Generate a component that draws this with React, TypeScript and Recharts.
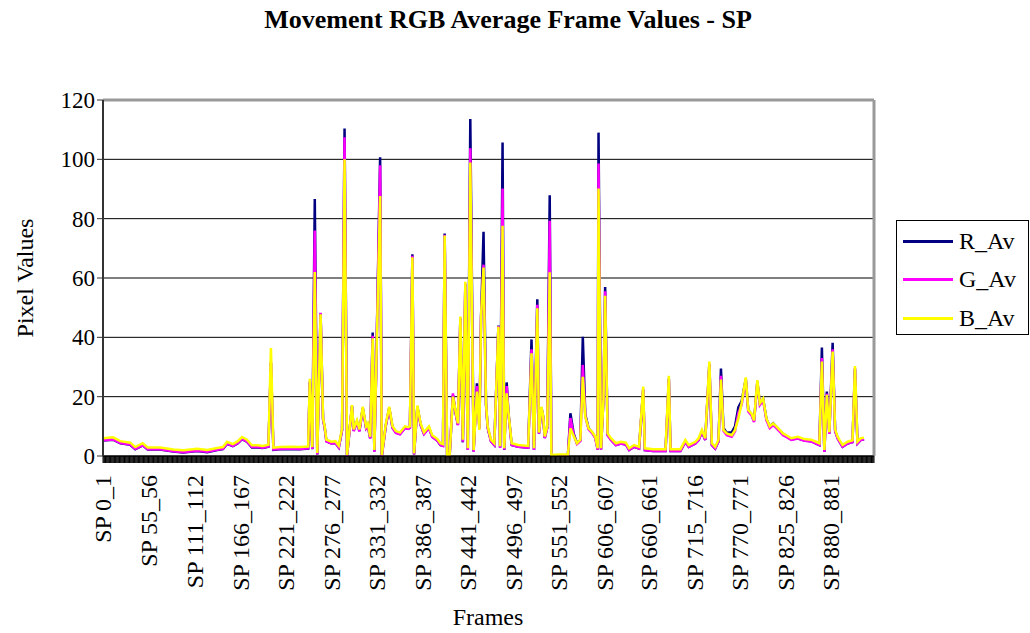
import { LineChart, Line, XAxis, YAxis, CartesianGrid, ReferenceLine } from "recharts";

// frame index (category position) of each sampled point
const frames = [
  0, 12, 21, 33, 39, 48, 54, 69, 85, 97, 114, 126, 138, 145, 150, 157, 163, 168, 174, 180,
  187, 193, 200, 203, 206, 214, 226, 238, 248, 250, 253, 256, 259, 263, 266, 268, 270, 276, 281, 285,
  289, 292, 295, 301, 303, 307, 310, 314, 318, 320, 323, 326, 328, 330, 335, 337, 342, 346, 350, 354,
  359, 365, 369, 371, 374, 376, 380, 384, 388, 394, 398, 404, 408, 411, 413, 416, 419, 423, 426, 429,
  432, 435, 438, 441, 444, 448, 452, 455, 457, 460, 463, 465, 469, 473, 478, 480, 483, 485, 488, 490,
  494, 502, 514, 518, 521, 525, 527, 530, 532, 534, 537, 540, 542, 552, 562, 565, 569, 573, 577, 580,
  583, 587, 591, 595, 598, 599, 602, 605, 607, 610, 614, 620, 626, 632, 636, 642, 648, 653, 655, 665,
  680, 684, 686, 698, 704, 708, 716, 720, 724, 728, 733, 736, 740, 744, 747, 750, 754, 760, 764, 768,
  772, 777, 780, 784, 787, 791, 794, 798, 802, 806, 810, 814, 818, 822, 826, 832, 840, 848, 856, 862,
  866, 869, 872, 875, 878, 882, 885, 888, 890, 894, 900, 906, 909, 912, 916, 920,
];

const rAv = [
  5.2, 5.5, 4.3, 3.8, 2.3, 3.6, 2.2, 2.2, 1.5, 1.2, 1.7, 1.3, 2.0, 2.3, 4.1, 3.3, 4.3, 5.7, 4.8, 2.9,
  2.9, 2.7, 3.1, 31.5, 2.1, 2.3, 2.4, 2.3, 2.5, 25, 2.3, 86.6, 0.5, 48, 12.4, 9.6, 5, 4.2, 4.4, 2.9,
  8.8, 110.4, 0, 16.8, 8.5, 11.5, 8.4, 16.2, 9.5, 10.5, 6, 41.6, 1.5, 26, 100.7, 0, 10.5, 16.2, 9.5, 7.9,
  7.4, 9.5, 9.2, 9.6, 68, 0.5, 16.6, 10.5, 7.5, 9.5, 6.5, 5.2, 3.7, 3.5, 75, 0, 0, 20.5, 15, 10.5,
  46.5, 4.6, 58, 2.1, 113.6, 1.5, 24.5, 9.5, 46.8, 75.6, 17.5, 9.6, 5, 3.7, 44, 2.8, 105.7, 2, 24.8, 15,
  3.7, 3.1, 2.8, 39.3, 2, 52.8, 7.5, 16.3, 13.4, 6.1, 9.6, 87.9, 0, 0.2, 0.2, 14.4, 7.5, 4.3, 5.3, 40.2,
  14, 9.3, 8, 6.3, 2.2, 109, 2.2, 19.5, 57, 7.1, 5.5, 3.7, 4.2, 3.9, 2, 3.1, 2.5, 22.5, 2, 1.7,
  1.7, 26, 1.7, 1.7, 4.8, 3.1, 4.2, 5.4, 8.2, 5.4, 31, 3.7, 2.5, 4.9, 29.5, 9.5, 7.8, 8, 10, 16.4,
  18.5, 26, 15.5, 14, 11.8, 25, 17.8, 19.2, 12.4, 10, 11, 9.8, 8.6, 7.4, 6.6, 5.6, 6, 5.2, 5, 4.2,
  3.7, 36.6, 1.4, 21.7, 7.6, 38.2, 8.5, 6, 5, 3.1, 4.2, 4.7, 29.5, 4.2, 5.4, 5.6,
];

const gAv = [
  5.3, 5.6, 4.4, 3.9, 2.4, 3.7, 2.3, 2.3, 1.6, 1.3, 1.8, 1.4, 2.1, 2.4, 4.2, 3.4, 4.4, 5.8, 4.9, 3.0,
  3.0, 2.8, 3.2, 31.5, 2.2, 2.4, 2.5, 2.4, 2.6, 25, 2.4, 76, 0.5, 48.3, 12.3, 9.5, 4.9, 4.2, 4.4, 2.9,
  8.8, 107.4, 0, 16.7, 8.4, 11.4, 8.3, 16.1, 9.4, 10.4, 5.9, 40.5, 1.4, 25.8, 98, 0, 10.4, 16.1, 9.4, 7.8,
  7.3, 9.4, 9.1, 9.5, 67.5, 0.5, 16.5, 10.4, 7.4, 9.4, 6.4, 5.2, 3.7, 3.4, 74.6, 0, 0, 21.1, 14.9, 10.4,
  46.5, 4.8, 58.2, 2, 103.7, 1.4, 23.6, 9, 46.8, 64.5, 17.3, 9.5, 4.9, 3.7, 43.8, 2.7, 90.2, 2.1, 23.6, 14.6,
  3.7, 3.1, 2.8, 36, 2, 51, 7.5, 16.2, 13.3, 6, 9.5, 79.3, 0, 0.2, 0.2, 12.8, 7, 4, 5, 30.7,
  13.5, 9, 7.8, 6.1, 2.1, 98.6, 2.1, 20, 55.5, 7, 5.4, 3.7, 4.2, 3.9, 2, 3.1, 2.5, 22.5, 2, 1.7,
  1.7, 26, 1.7, 1.7, 4.8, 3.1, 4.2, 5.4, 8.2, 5.4, 31, 3.7, 2.5, 4.9, 27, 8.5, 7, 6.5, 8.3, 14.5,
  17.2, 25.8, 15, 13.7, 11.4, 25, 17.2, 18.8, 12, 9.4, 10.4, 9.4, 8.2, 7, 6.4, 5.4, 5.9, 5.1, 4.9, 4.2,
  3.7, 33, 1.4, 21, 7.4, 36, 8.4, 5.9, 4.9, 3.1, 4.2, 4.7, 29.5, 4.2, 5.4, 5.6,
];

const bAv = [
  6, 6.3, 5, 4.5, 3, 4.3, 2.9, 2.9, 2.2, 1.9, 2.4, 2, 2.7, 3, 4.8, 4, 5, 6.4, 5.5, 3.6,
  3.6, 3.4, 3.8, 36.4, 2.8, 3, 3.1, 3, 3.2, 26, 3, 62, 1, 47.8, 12.8, 10, 5.5, 4.8, 5, 3.5,
  9.4, 100, 0.3, 17.2, 9, 12, 9, 16.6, 10, 11, 6.5, 39.7, 2, 26.7, 87.6, 0.3, 11, 16.6, 10, 8.4,
  7.9, 10, 9.7, 10, 67, 0.9, 17, 11, 8, 10, 7, 5.8, 4.3, 4, 74.3, 0.3, 0.3, 20, 15.5, 11,
  47, 5.5, 58.7, 2.6, 98.9, 2, 21.7, 8.8, 47.2, 63.5, 17.8, 10, 5.5, 4.3, 43.6, 3.3, 77.6, 2.6, 21.1, 15,
  4.3, 3.7, 3.4, 34.6, 2.6, 49.8, 7.9, 16.6, 13.7, 6.6, 10, 61.9, 0.3, 0.5, 0.5, 9.3, 6.7, 4.3, 5.5, 26.7,
  13.2, 9.3, 8.2, 6.6, 2.6, 90.2, 2.6, 19, 54, 7.6, 6, 4.3, 4.8, 4.5, 2.6, 3.7, 3.1, 23.4, 2.6, 2.3,
  2.3, 27, 2.3, 2.3, 5.4, 3.7, 4.8, 6, 8.8, 6, 31.8, 4.3, 3.1, 5.5, 25.8, 8.8, 7.6, 7, 8.8, 12.6,
  17.8, 26.5, 15.5, 14.3, 12, 25.6, 17.8, 19.4, 12.6, 10, 11, 10, 8.8, 7.6, 7, 6, 6.5, 5.7, 5.5, 4.8,
  4.3, 31.8, 2, 20.6, 8, 35.2, 9, 6.5, 5.5, 3.7, 4.8, 5.3, 30.3, 4.8, 6, 6.2,
];

// labelled categories on the x axis
const labelFrames = [0, 55, 111, 166, 221, 276, 331, 386, 441, 496, 551, 606, 660, 715, 770, 825, 880];
const yTicks = [0, 20, 40, 60, 80, 100, 120];
const categoryCount = 932;

const seriesNames = ["R_Av", "G_Av", "B_Av"];
const seriesColors = ["#000080", "#ff00ff", "#ffff00"];

const data = frames.map((f, i) => ({ frame: f, R_Av: rAv[i], G_Av: gAv[i], B_Av: bAv[i] }));

// one tick mark per category, like Excel draws them
const categoryTicks = Array.from({ length: categoryCount + 1 }, (_, i) => i);

const FONT = "'Liberation Serif', 'Times New Roman', serif";

function FrameTick(props: any) {
  const { x, y, payload } = props;
  const v = payload.value;
  if (!labelFrames.includes(v)) return <g />;
  return (
    <text
      x={x}
      y={y}
      dy="0.35em"
      transform={`rotate(-90, ${x}, ${y})`}
      textAnchor="end"
      fontSize={24}
      fontFamily={FONT}
      fill="#000"
    >
      {`SP ${v}_${v + 1}`}
    </text>
  );
}

export default function App() {
  return (
    <div style={{ position: "absolute", left: 0, top: 0, width: 1030, height: 633, background: "#fff", fontFamily: FONT }}>
      <div
        style={{
          position: "absolute",
          left: 0,
          width: 1016,
          top: 5,
          textAlign: "center",
          fontWeight: "bold",
          fontSize: 26,
        }}
      >
        Movement RGB Average Frame Values - SP
      </div>

      <LineChart
        width={1030}
        height={633}
        data={data}
        margin={{ top: 100, right: 156, left: 43, bottom: 27 }}
      >
        <CartesianGrid horizontal vertical={false} stroke="#000" strokeWidth={1} />
        <XAxis
          type="number"
          dataKey="frame"
          domain={[0, categoryCount]}
          ticks={categoryTicks}
          interval={0}
          height={150}
          tickSize={7}
          tickMargin={12}
          tickLine={{ stroke: "#000", strokeWidth: 1 }}
          axisLine={{ stroke: "#000", strokeWidth: 1 }}
          tick={<FrameTick />}
          allowDataOverflow
        />
        <YAxis
          domain={[0, 120]}
          ticks={yTicks}
          width={60}
          tickSize={6}
          tickMargin={2}
          interval={0}
          axisLine={{ stroke: "#333", strokeWidth: 2 }}
          tickLine={{ stroke: "#333" }}
          tick={{ fontSize: 23, fontFamily: FONT, fill: "#000" }}
        />
        <ReferenceLine y={120} stroke="#999" strokeWidth={3} />
        <ReferenceLine x={categoryCount} stroke="#999" strokeWidth={3} />
        {seriesNames.map((name, i) => (
          <Line
            key={name}
            type="linear"
            dataKey={name}
            stroke={seriesColors[i]}
            strokeWidth={2.5}
            dot={false}
            activeDot={false}
            isAnimationActive={false}
          />
        ))}
      </LineChart>

      <div
        style={{
          position: "absolute",
          left: 25,
          top: 278,
          transform: "translate(-50%, -50%) rotate(-90deg)",
          fontSize: 24,
          whiteSpace: "nowrap",
        }}
      >
        Pixel Values
      </div>
      <div
        style={{
          position: "absolute",
          left: 488,
          top: 604,
          transform: "translateX(-50%)",
          fontSize: 24,
        }}
      >
        Frames
      </div>

      <div
        style={{
          position: "absolute",
          left: 896,
          top: 220,
          width: 133,
          height: 115,
          border: "1px solid #000",
          boxSizing: "border-box",
        }}
      >
        {seriesNames.map((name, i) => (
          <div
            key={name}
            style={{ position: "absolute", left: 6, top: 4 + i * 38.5, display: "flex", alignItems: "center", height: 32 }}
          >
            <span style={{ display: "inline-block", width: 50, height: 3, background: seriesColors[i], marginRight: 6 }} />
            <span style={{ fontSize: 24 }}>{name}</span>
          </div>
        ))}
      </div>
    </div>
  );
}
